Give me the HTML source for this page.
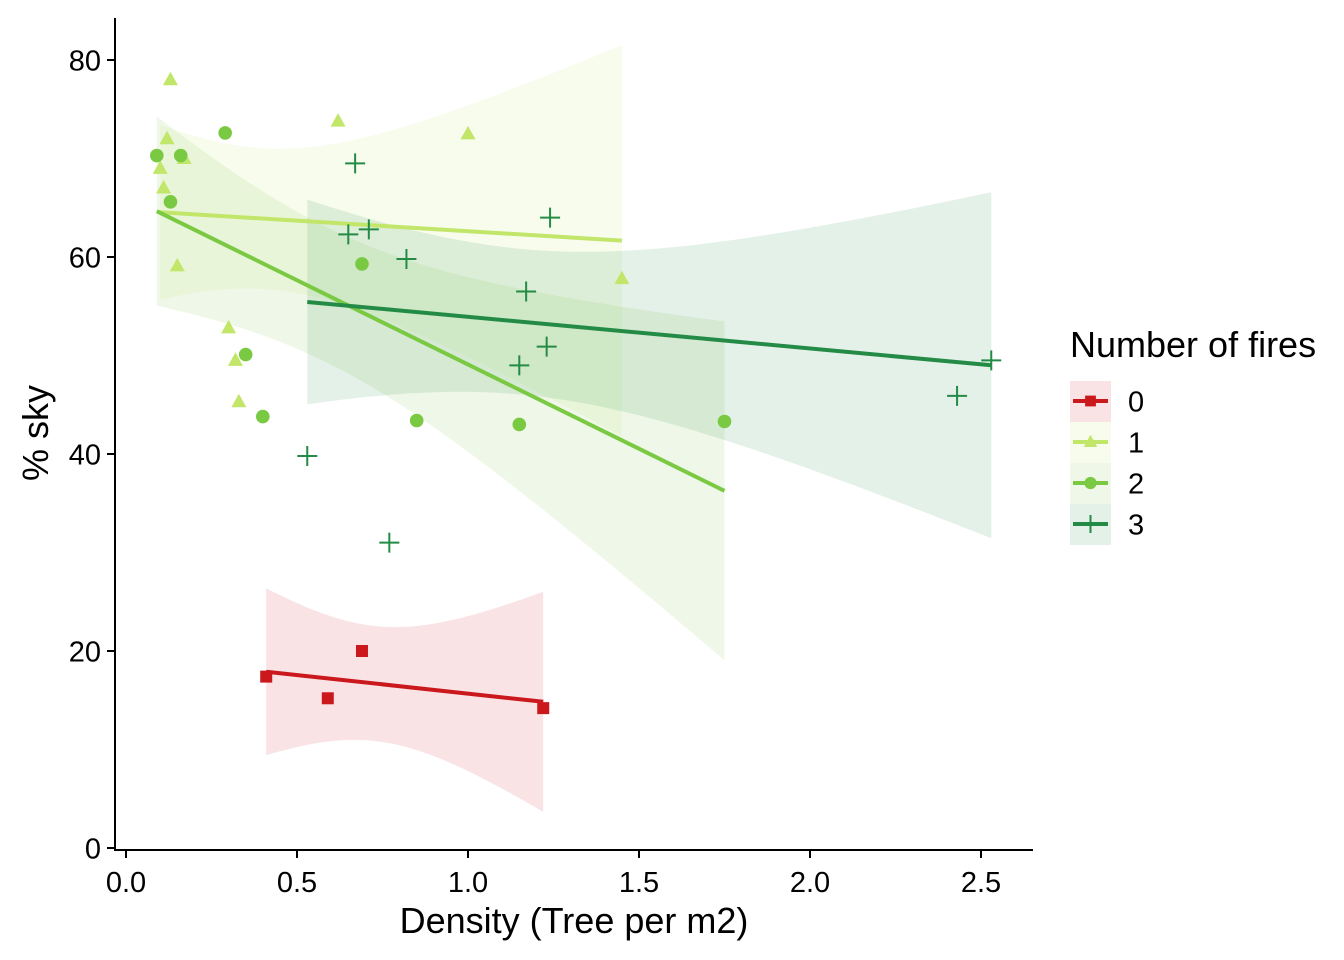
<!DOCTYPE html>
<html><head><meta charset="utf-8">
<style>
html,body{margin:0;padding:0;background:#fff;}
svg{display:block;font-family:"Liberation Sans",Arial,sans-serif;}
</style></head>
<body>
<svg id="chart" width="1344" height="960" viewBox="0 0 1344 960">
<g id="ribbons"></g>
<g id="lines"></g>
<g id="points"></g>
<g id="axes"></g>
<g id="legend"></g>
</svg>
<script>
const groups = ["0","1","2","3"];
const colors = ["#cb181d","#c2e66a","#7ac943","#238b45"];
const shapes = ["square","triangle","circle","plus"];
const x0 = [0.41,0.59,0.69,1.22];
const y0 = [17.4,15.2,20.0,14.2];
const x1 = [0.13,0.12,0.10,0.11,0.17,0.15,0.30,0.32,0.33,0.62,1.00,1.45];
const y1 = [78.0,72.0,69.0,67.0,70.0,59.1,52.8,49.5,45.3,73.8,72.5,57.8];
const x2 = [0.09,0.16,0.13,0.29,0.35,0.40,0.69,0.85,1.15,1.75];
const y2 = [70.3,70.3,65.6,72.6,50.1,43.8,59.3,43.4,43.0,43.3];
const x3 = [0.53,0.65,0.67,0.71,0.77,0.82,1.15,1.17,1.23,1.24,2.43,2.53];
const y3 = [39.8,62.3,69.5,62.8,31.0,59.8,49.0,56.5,50.9,64.0,45.9,49.5];
const xTicks = [0,0.5,1,1.5,2,2.5];
const xTickLabels = ["0.0","0.5","1.0","1.5","2.0","2.5"];
const yTicks = [0,20,40,60,80];
const tTable = {2:4.303,8:2.306,10:2.228};

const NS="http://www.w3.org/2000/svg";
const sx = v => 126 + 342*v;
const sy = v => 848 - 9.85*v;
function mk(tag, attrs, parent){const e=document.createElementNS(NS,tag);for(const k in attrs)e.setAttribute(k,attrs[k]);parent.appendChild(e);return e;}
const R=document.getElementById('ribbons'),L=document.getElementById('lines'),P=document.getElementById('points'),A=document.getElementById('axes'),G=document.getElementById('legend');

function drawShape(shape,cx,cy,color,parent,size){
  let el;
  if(shape==="square") el=mk('rect',{x:cx-6*size,y:cy-6*size,width:12*size,height:12*size,fill:color},parent);
  else if(shape==="circle") el=mk('circle',{cx:cx,cy:cy,r:6.8*size,fill:color},parent);
  else if(shape==="triangle") el=mk('polygon',{points:`${cx},${cy-8*size} ${cx-7.5*size},${cy+5.5*size} ${cx+7.5*size},${cy+5.5*size}`,fill:color},parent);
  else el=mk('path',{d:`M${cx-10*size},${cy}H${cx+10*size}M${cx},${cy-10*size}V${cy+10*size}`,stroke:color,'stroke-width':2,fill:'none'},parent);
  return el;
}

const XS=[x0,x1,x2,x3], YS=[y0,y1,y2,y3];
groups.forEach((g,i)=>{
  const xs=XS[i], ys=YS[i], n=xs.length;
  const mx=xs.reduce((a,b)=>a+b)/n, my=ys.reduce((a,b)=>a+b)/n;
  let sxx=0,sxy=0; xs.forEach((x,j)=>{sxx+=(x-mx)**2;sxy+=(x-mx)*(ys[j]-my);});
  const b=sxy/sxx, a=my-b*mx;
  let sse=0; xs.forEach((x,j)=>{sse+=(ys[j]-a-b*x)**2;});
  const s=Math.sqrt(sse/(n-2)), t=tTable[n-2];
  const xmin=Math.min(...xs), xmax=Math.max(...xs);
  const up=[],lo=[];
  for(let k=0;k<=80;k++){const x=xmin+(xmax-xmin)*k/80;const f=a+b*x;const hw=t*s*Math.sqrt(1/n+(x-mx)**2/sxx);
    up.push(`${sx(x).toFixed(1)},${sy(f+hw).toFixed(1)}`);lo.unshift(`${sx(x).toFixed(1)},${sy(f-hw).toFixed(1)}`);}
  const rib=mk('polygon',{points:up.concat(lo).join(' '),fill:colors[i],'fill-opacity':0.12},R);
  
  
  const ln=mk('line',{x1:sx(xmin),y1:sy(a+b*xmin),x2:sx(xmax),y2:sy(a+b*xmax),stroke:colors[i],'stroke-width':4},L);
  
  
  xs.forEach((x,j)=>{
    const pt=drawShape(shapes[i],sx(x),sy(ys[j]),colors[i],P,1);
    
    
  });
});

// axes
mk('line',{x1:115,y1:18,x2:115,y2:850,stroke:'#000','stroke-width':2},A);
mk('line',{x1:114,y1:850,x2:1033,y2:850,stroke:'#000','stroke-width':2},A);
xTicks.forEach((v,i)=>{
  mk('line',{x1:sx(v),y1:850,x2:sx(v),y2:858,stroke:'#000','stroke-width':2},A);
  const tx=mk('text',{x:sx(v),y:892,'text-anchor':'middle','font-size':29,fill:'#000'},A);tx.textContent=xTickLabels[i];
  
  
});
yTicks.forEach(v=>{
  mk('line',{x1:107,y1:sy(v),x2:115,y2:sy(v),stroke:'#000','stroke-width':2},A);
  const tx=mk('text',{x:101,y:sy(v)+10.5,'text-anchor':'end','font-size':29,fill:'#000'},A);tx.textContent=v;
  
  
});
const xt=mk('text',{x:574,y:933,'text-anchor':'middle','font-size':36,fill:'#000'},A);xt.textContent="Density (Tree per m2)";


const yt=mk('text',{x:0,y:0,'text-anchor':'middle','font-size':36,fill:'#000',transform:'translate(48,433) rotate(-90)'},A);yt.textContent="% sky";



// legend
const lt=mk('text',{x:1070,y:357,'font-size':36,fill:'#000'},G);lt.textContent="Number of fires";


groups.forEach((g,i)=>{
  const cy=401+41*i;
  const bg=mk('rect',{x:1070,y:cy-20,width:41,height:41,fill:colors[i],'fill-opacity':0.12},G);
  
  
  mk('line',{x1:1073,y1:cy,x2:1108,y2:cy,stroke:colors[i],'stroke-width':4},G);
  drawShape(shapes[i],1090.5,cy,colors[i],G,0.9);
  const tx=mk('text',{x:1128,y:cy+10.5,'font-size':29,fill:'#000'},G);tx.textContent=g;
  
  
});
</script>
</body></html>
